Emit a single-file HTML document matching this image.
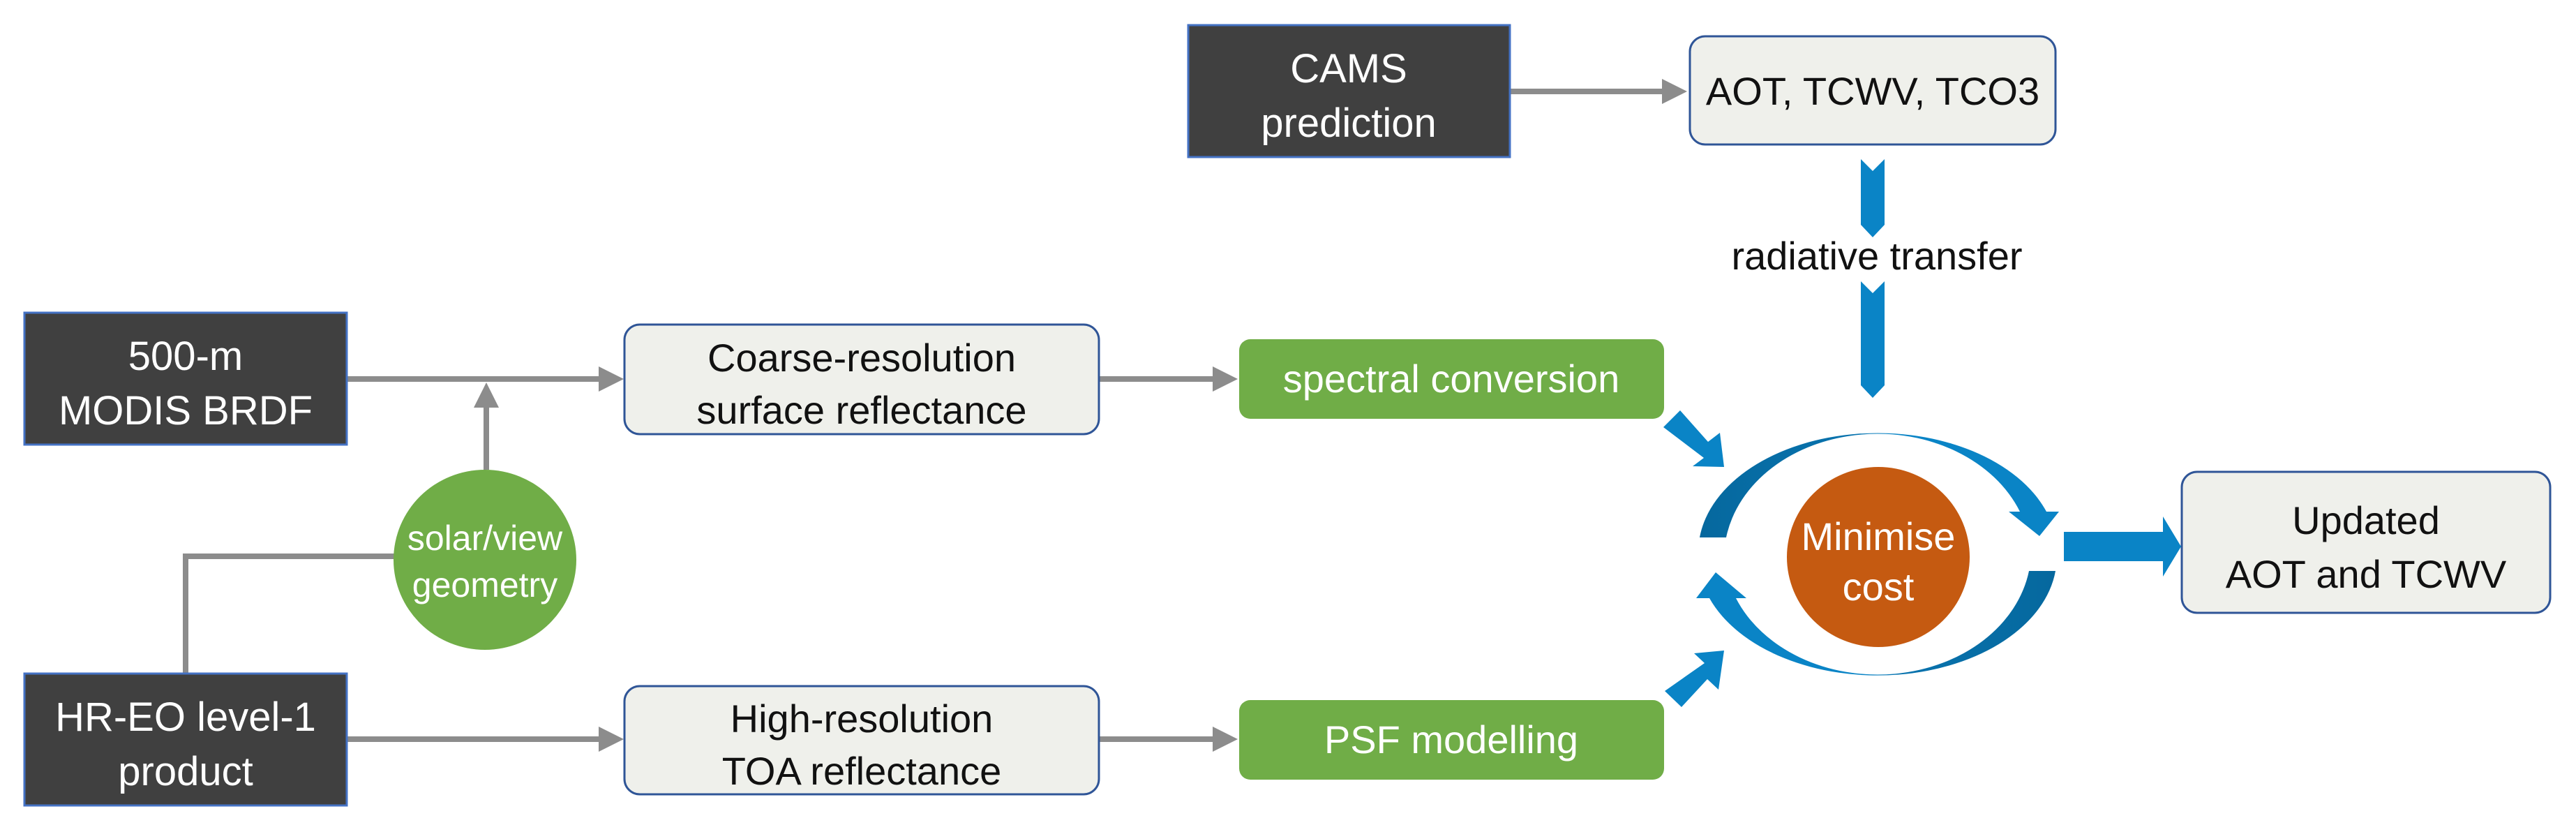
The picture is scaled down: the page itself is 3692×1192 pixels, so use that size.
<!DOCTYPE html>
<html><head><meta charset="utf-8"><style>
html,body{margin:0;padding:0;background:#fff;}
svg{display:block;}
text{font-family:"Liberation Sans Narrow","Liberation Sans",sans-serif;}
</style></head><body>
<svg width="3692" height="1192" viewBox="0 0 3692 1192" xmlns="http://www.w3.org/2000/svg">
<defs>
<marker id="ga" markerWidth="4.5" markerHeight="4.5" refX="3.5" refY="2.25" orient="auto" markerUnits="strokeWidth">
<path d="M0,0 L4.5,2.25 L0,4.5 Z" fill="#8c8c8c"/></marker>
<linearGradient id="gt" x1="0" y1="0" x2="1" y2="0">
<stop offset="0" stop-color="#06689e"/><stop offset="0.45" stop-color="#0873ae"/><stop offset="0.55" stop-color="#0a84c6"/><stop offset="1" stop-color="#0a84c6"/></linearGradient>
<linearGradient id="gb" x1="1" y1="0" x2="0" y2="0">
<stop offset="0" stop-color="#06689e"/><stop offset="0.45" stop-color="#0873ae"/><stop offset="0.55" stop-color="#0a84c6"/><stop offset="1" stop-color="#0a84c6"/></linearGradient>
</defs>
<g stroke="#8c8c8c" stroke-width="8" fill="none">
<line x1="2164" y1="131" x2="2410" y2="131" marker-end="url(#ga)"/>
<line x1="497" y1="543" x2="886" y2="543" marker-end="url(#ga)"/>
<line x1="697" y1="673" x2="697" y2="556" marker-end="url(#ga)"/>
<line x1="1575" y1="543" x2="1766" y2="543" marker-end="url(#ga)"/>
<polyline points="266,965 266,797 566,797"/>
<line x1="497" y1="1059" x2="886" y2="1059" marker-end="url(#ga)"/>
<line x1="1575" y1="1059" x2="1766" y2="1059" marker-end="url(#ga)"/>
</g>
<g fill="#404040" stroke="#4472c4" stroke-width="3">
<rect x="1703" y="36" width="461" height="189"/>
<rect x="35" y="448" width="462" height="189"/>
<rect x="35" y="965" width="462" height="189"/>
</g>
<g fill="#fff" font-size="58" text-anchor="middle">
<text x="1933" y="118">CAMS</text><text x="1933" y="196">prediction</text>
<text x="266" y="530">500-m</text><text x="266" y="608">MODIS BRDF</text>
<text x="266" y="1047">HR-EO level-1</text><text x="266" y="1125">product</text>
</g>
<g fill="#eff0eb" stroke="#2f5597" stroke-width="3">
<rect x="2422" y="52" width="524" height="155" rx="22"/>
<rect x="895" y="465" width="680" height="157" rx="22"/>
<rect x="895" y="983" width="680" height="155" rx="22"/>
<rect x="3127" y="676" width="528" height="202" rx="22"/>
</g>
<g fill="#111" font-size="56" text-anchor="middle">
<text x="2684" y="150">AOT, TCWV, TCO3</text>
<text x="1235" y="532">Coarse-resolution</text><text x="1235" y="607">surface reflectance</text>
<text x="1235" y="1049">High-resolution</text><text x="1235" y="1124">TOA reflectance</text>
<text x="3391" y="765">Updated</text><text x="3391" y="842">AOT and TCWV</text>
<text x="2690" y="386">radiative transfer</text>
</g>
<g fill="#70ad47">
<rect x="1776" y="486" width="609" height="114" rx="16"/>
<rect x="1776" y="1003" width="609" height="114" rx="16"/>
<ellipse cx="695" cy="802" rx="131" ry="129"/>
</g>
<g fill="#fff" font-size="56" text-anchor="middle">
<text x="2080" y="562">spectral conversion</text>
<text x="2080" y="1079">PSF modelling</text>
<text x="695" y="788" font-size="50">solar/view</text>
<text x="695" y="855" font-size="50">geometry</text>
</g>
<ellipse cx="2692" cy="798" rx="131" ry="129" fill="#c55a11"/>
<g fill="#fff" font-size="56" text-anchor="middle">
<text x="2692" y="788">Minimise</text><text x="2692" y="860">cost</text>
</g>
<g fill="#0a84c6">
<polygon points="2667,228 2684,245 2701,228 2701,322 2684,340 2667,322"/>
<polygon points="2667,403 2684,420 2701,403 2701,552 2684,570 2667,552"/>
<polygon points="2958,762 3100,762 3100,740 3126,783 3100,826 3100,804 2958,804"/>
<polygon points="2384,612 2408,588 2448,633 2465,620 2471,669 2426,668 2442,656"/>
<polygon points="2386,990 2410,1013 2447,973 2463,988 2471,932 2428,936 2443,950"/>
<polygon points="2879,733 2951,733 2923,768"/>
<polygon points="2431,857 2503,857 2459,820"/>
</g>
<path d="M2436,770 A257,170 0 0 1 2933,733 L2895,733 A220,178 0 0 0 2474,770 Z" fill="url(#gt)"/>
<path d="M2946,818 A257,170 0 0 1 2450,857 L2488,857 A220,178 0 0 0 2908,818 Z" fill="url(#gb)"/>
</svg>
</body></html>
